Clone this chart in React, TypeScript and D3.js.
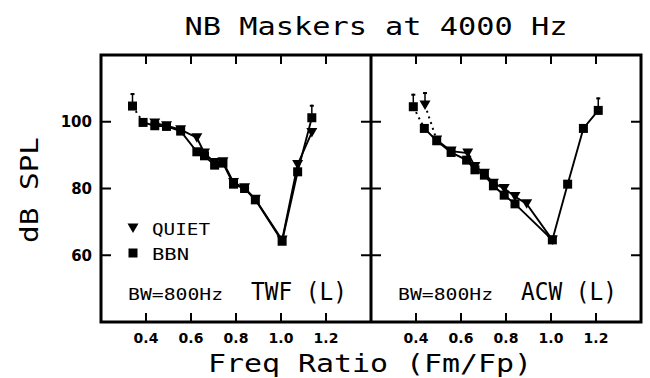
import React from "react";
import * as d3 from "d3";

// TWF (L) panel
const twfBbnRatio = [0.34, 0.387, 0.439, 0.491, 0.554, 0.626, 0.66, 0.705, 0.742, 0.789, 0.838, 0.886, 1.005, 1.074, 1.137];
const twfBbnDb = [104.7, 99.8, 98.8, 98.6, 97.2, 91.0, 89.8, 87.0, 87.6, 81.3, 80.0, 76.6, 64.2, 85.0, 101.2];
const twfQuietRatio = [0.439, 0.491, 0.554, 0.626, 0.66, 0.705, 0.742, 0.789, 0.838, 0.886, 1.005, 1.074, 1.137];
const twfQuietDb = [99.6, 98.8, 97.6, 95.2, 90.6, 87.8, 88.0, 81.8, 80.2, 76.8, 64.6, 87.2, 96.8];

// ACW (L) panel
const acwBbnRatio = [0.388, 0.437, 0.492, 0.556, 0.625, 0.662, 0.704, 0.744, 0.792, 0.84, 1.006, 1.074, 1.144, 1.21];
const acwBbnDb = [104.5, 98.0, 94.3, 90.8, 88.5, 85.6, 84.0, 80.8, 78.0, 75.4, 64.6, 81.3, 98.0, 103.4];
const acwQuietRatio = [0.44, 0.492, 0.556, 0.63, 0.662, 0.704, 0.744, 0.792, 0.84, 0.892, 1.006];
const acwQuietDb = [105.0, 94.5, 91.2, 90.6, 86.6, 84.6, 81.6, 80.0, 77.6, 75.4, 64.6];

// points that are lower limits (drawn with a small arrow up)
const twfBbnLimits = [0, 14];
const acwBbnLimits = [0, 13];
const acwQuietLimits = [0];

const xTicks = [0.4, 0.6, 0.8, 1.0, 1.2];
const yTicks = [60, 80, 100];

const top = 55;
const bottom = 322;
const left = 101;
const mid = 371;
const right = 641;
const font = "'DejaVu Sans', sans-serif";
const mono = "'DejaVu Sans Mono', monospace";

const y = d3.scaleLinear([40, 120], [bottom, top]);

type Series = { ratio: number[]; db: number[]; limits: number[]; shape: "square" | "tri" };

const Marker = ({ cx, cy, shape }: { cx: number; cy: number; shape: string }) =>
  shape === "square" ? (
    <rect x={cx - 4.5} y={cy - 4.5} width={9} height={9} fill="black" />
  ) : (
    <path d={`M${cx - 5.5},${cy - 4.5}L${cx + 5.5},${cy - 4.5}L${cx},${cy + 5}Z`} fill="black" />
  );

const Panel = (props: { x0: number; x1: number; series: Series[]; name: string }) => {
  const { x0, x1, series, name } = props;
  const x = d3.scaleLinear([0.2, 1.4], [x0, x1]);
  const line = d3.line<[number, number]>((d) => x(d[0]), (d) => y(d[1]));
  return (
    <g>
      {xTicks.map((t) => (
        <g key={t}>
          <line x1={x(t)} x2={x(t)} y1={top} y2={top + 9} stroke="black" strokeWidth={2} />
          <line x1={x(t)} x2={x(t)} y1={bottom} y2={bottom - 9} stroke="black" strokeWidth={2} />
          <text x={x(t)} y={343} textAnchor="middle" fontFamily={font} fontWeight="bold" fontSize={14}>
            {t.toFixed(1)}
          </text>
        </g>
      ))}
      {yTicks.map((t) => (
        <g key={t}>
          <line x1={x0} x2={x0 + 10} y1={y(t)} y2={y(t)} stroke="black" strokeWidth={2} />
          <line x1={x1} x2={x1 - 10} y1={y(t)} y2={y(t)} stroke="black" strokeWidth={2} />
        </g>
      ))}
      {series.map((s, i) => {
        const pts = s.ratio.map((r, j) => [r, s.db[j]] as [number, number]);
        const dotted = s.limits.includes(0);
        return (
          <g key={i}>
            {dotted && (
              <path d={line(pts.slice(0, 2)) || ""} fill="none" stroke="black" strokeWidth={2} strokeDasharray="2,4" />
            )}
            <path d={line(dotted ? pts.slice(1) : pts) || ""} fill="none" stroke="black" strokeWidth={1.9} />
            {s.limits.map((k) => (
              <g key={k}>
                <line x1={x(pts[k][0])} x2={x(pts[k][0])} y1={y(pts[k][1]) - 4} y2={y(pts[k][1]) - 13} stroke="black" strokeWidth={1.5} />
                <line x1={x(pts[k][0]) - 2} x2={x(pts[k][0]) + 2} y1={y(pts[k][1]) - 12} y2={y(pts[k][1]) - 12} stroke="black" strokeWidth={2} />
              </g>
            ))}
            {pts.map((p, j) => (
              <Marker key={j} cx={x(p[0])} cy={y(p[1])} shape={s.shape} />
            ))}
          </g>
        );
      })}
      <text x={x0 + 27} y={300} fontFamily={mono} fontSize={16} textLength={95} lengthAdjust="spacingAndGlyphs">
        BW=800Hz
      </text>
      <text x={x0 + 150} y={300} fontFamily={mono} fontSize={24} textLength={96} lengthAdjust="spacingAndGlyphs">
        {name}
      </text>
    </g>
  );
};

export default function App() {
  return (
    <svg width={650} height={378} style={{ position: "absolute", left: 0, top: 0, background: "white" }}>
      <text x={376} y={35} textAnchor="middle" fontFamily={mono} fontSize={25} textLength={383} lengthAdjust="spacingAndGlyphs">
        NB Maskers at 4000 Hz
      </text>
      <Panel
        x0={left}
        x1={mid}
        name="TWF (L)"
        series={[
          { ratio: twfQuietRatio, db: twfQuietDb, limits: [], shape: "tri" },
          { ratio: twfBbnRatio, db: twfBbnDb, limits: twfBbnLimits, shape: "square" },
        ]}
      />
      <Panel
        x0={mid}
        x1={right}
        name="ACW (L)"
        series={[
          { ratio: acwQuietRatio, db: acwQuietDb, limits: acwQuietLimits, shape: "tri" },
          { ratio: acwBbnRatio, db: acwBbnDb, limits: acwBbnLimits, shape: "square" },
        ]}
      />
      <rect x={left} y={top} width={right - left} height={bottom - top} fill="none" stroke="black" strokeWidth={3} />
      <line x1={mid} x2={mid} y1={top} y2={bottom} stroke="black" strokeWidth={3} />
      {yTicks.map((t) => (
        <text key={t} x={92} y={y(t)} dy="0.36em" textAnchor="end" fontFamily={font} fontWeight="bold" fontSize={15}>
          {t}
        </text>
      ))}
      <text
        transform={`translate(38,190) rotate(-90)`}
        textAnchor="middle"
        fontFamily={mono}
        fontSize={25}
        textLength={106}
        lengthAdjust="spacingAndGlyphs"
      >
        dB SPL
      </text>
      <Marker cx={133} cy={228} shape="tri" />
      <text x={152} y={235} fontFamily={mono} fontSize={16} textLength={58} lengthAdjust="spacingAndGlyphs">
        QUIET
      </text>
      <Marker cx={133} cy={253} shape="square" />
      <text x={152} y={260} fontFamily={mono} fontSize={16} textLength={37} lengthAdjust="spacingAndGlyphs">
        BBN
      </text>
      <text x={370} y={372} textAnchor="middle" fontFamily={mono} fontSize={25} textLength={324} lengthAdjust="spacingAndGlyphs">
        Freq Ratio (Fm/Fp)
      </text>
    </svg>
  );
}
